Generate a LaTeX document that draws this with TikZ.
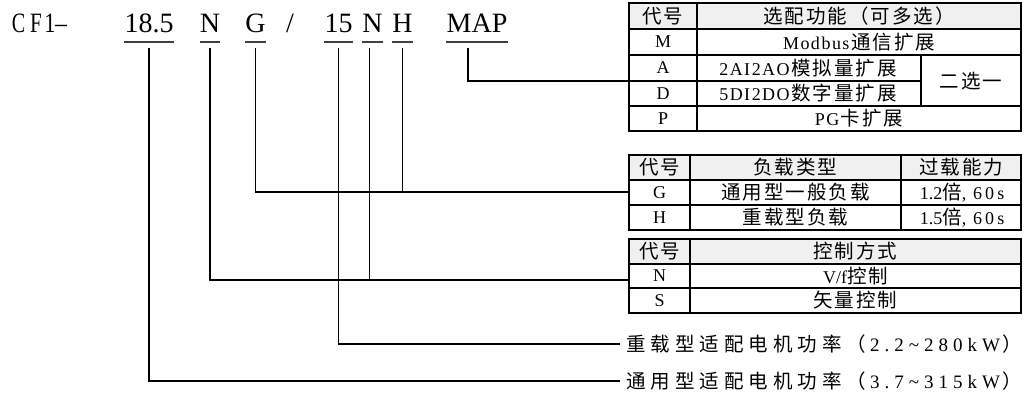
\documentclass[tikz,border=0pt]{standalone}
\usepackage{graphicx}
\usepackage{fontspec}
\setmainfont{Liberation Serif}
\newfontfamily\zh{Noto Sans CJK SC}
\makeatletter
\def\spc@gap{0pt}
\def\spc#1#2{{\def\spc@gap{#1}\spc@loop#2\@nil\unskip}}
\def\spc@loop#1{\ifx#1\@nil\else #1\hskip\spc@gap\relax\expandafter\spc@loop\fi}
\makeatother
% table texts
\newcommand\tz[1]{{\zh\fontsize{19.5}{19.5}\selectfont\spc{2pt}{#1}}}
\newcommand\tl[1]{\spc{1.5pt}{#1}}
% note texts
\newcommand\bz[1]{{\zh\fontsize{19.5}{19.5}\selectfont\spc{5pt}{#1}}}
\newcommand\bl[1]{{\fontsize{19}{19}\selectfont\spc{5pt}{#1}}}
\begin{document}
\begin{tikzpicture}[x=1pt,y=-1pt,
  title/.style={font=\fontsize{28}{28}\selectfont, inner sep=0pt, anchor=base},
  cell/.style={font=\fontsize{18}{18}\selectfont, inner sep=0pt},
  note/.style={font=\fontsize{18}{18}\selectfont, inner sep=0pt, anchor=west},
  grid/.style={line width=1.2pt},
  hdr/.style={fill=black!6},
  wire/.style={line width=1.4pt},
  uline/.style={line width=1.3pt, black!75}]
\useasboundingbox (0,0) rectangle (1025,395);

% ---- model code ----
\node[title] (tC) at (18.5,33) {\scalebox{0.72}[1]{C}};
\node[title] (tF) at (36,33) {\scalebox{0.75}[1]{F}};
\node[title] (t1) at (50,33) {\scalebox{0.8}[1]{1}};
\node[title] (tdash) at (61,33) {\scalebox{0.85}[1]{–}};
\node[title] (tA) at (149,33) {18.5};
\node[title] (tB) at (210,33) {N};
\node[title] (tG) at (255.5,33) {G};
\node[title] (tsl) at (290,33) {/};
\node[title] (tD) at (338.5,33) {15};
\node[title] (tE) at (372.5,33) {N};
\node[title] (tH) at (402.5,33) {H};
\node[title] (tM) at (477,33) {MAP};
\foreach \n in {tA,tB,tG,tD,tE,tH,tM}
  \draw[uline] ([yshift=-9pt]\n.base west) -- ([yshift=-9pt]\n.base east);

% ---- table 1 ----
\fill[hdr] (629,3) rectangle (1021,29);
\draw[grid] (629,3) rectangle (1021,131);
\draw[grid] (629,29) -- (1021,29) (629,55) -- (1021,55) (629,81) -- (921,81)
  (629,106) -- (1021,106) (697,3) -- (697,131) (921,55) -- (921,106);
\node[cell] (a0) at (663,16) {\tz{代号}};
\node[cell] (a1) at (859,16) {\tz{选配功能（可多选）}};
\node[cell] (aM) at (663,42) {M};
\node[cell] (aMt) at (859,42) {\tl{Modbus}\hskip1.5pt\tz{通信扩展}};
\node[cell] (aA) at (663,68) {A};
\node[cell] (aAt) at (808,68) {\tl{2AI2AO}\hskip1.5pt\tz{模拟量扩展}};
\node[cell] (aD) at (663,93.5) {D};
\node[cell] (aDt) at (808,93.5) {\tl{5DI2DO}\hskip1.5pt\tz{数字量扩展}};
\node[cell] (aX) at (971,81) {\tz{二选一}};
\node[cell] (aP) at (663,118.5) {P};
\node[cell] (aPt) at (859,118.5) {\tl{PG}\hskip1.5pt\tz{卡扩展}};

% ---- table 2 ----
\fill[hdr] (629,155) rectangle (1021,180);
\draw[grid] (629,155) rectangle (1021,230);
\draw[grid] (629,180) -- (1021,180) (629,205) -- (1021,205)
  (690,155) -- (690,230) (901,155) -- (901,230);
\node[cell] (b0) at (659.5,167.5) {\tz{代号}};
\node[cell] (b1) at (795.5,167.5) {\tz{负载类型}};
\node[cell] (b2) at (961,167.5) {\tz{过载能力}};
\node[cell] (bG) at (659.5,192.5) {G};
\node[cell] (bGt) at (795.5,192.5) {\tz{通用型一般负载}};
\node[cell] (bGo) at (962,192.5) {1.2{\zh\fontsize{19.5}{19.5}\selectfont 倍},\hskip7pt\spc{3pt}{60s}};
\node[cell] (bH) at (659.5,217.5) {H};
\node[cell] (bHt) at (795.5,217.5) {\tz{重载型负载}};
\node[cell] (bHo) at (962,217.5) {1.5{\zh\fontsize{19.5}{19.5}\selectfont 倍},\hskip7pt\spc{3pt}{60s}};

% ---- table 3 ----
\fill[hdr] (629,239) rectangle (1021,264);
\draw[grid] (629,239) rectangle (1021,313);
\draw[grid] (629,264) -- (1021,264) (629,288) -- (1021,288) (690,239) -- (690,313);
\node[cell] (c0) at (659.5,251.5) {\tz{代号}};
\node[cell] (c1) at (855.5,251.5) {\tz{控制方式}};
\node[cell] (cN) at (659.5,276) {N};
\node[cell] (cNt) at (855.5,276) {V/f\tz{控制}};
\node[cell] (cS) at (659.5,300.5) {S};
\node[cell] (cSt) at (855.5,300.5) {\tz{矢量控制}};

% ---- power notes ----
\node[note] (n1) at (626,344) {\bz{重载型适配电机功率（}\hskip4pt\bl{2.2{\textasciitilde}280kW}\hskip2pt{\zh\fontsize{19.5}{19.5}\selectfont ）}};
\node[note] (n2) at (626,381) {\bz{通用型适配电机功率（}\hskip4pt\bl{3.7{\textasciitilde}315kW}\hskip2pt{\zh\fontsize{19.5}{19.5}\selectfont ）}};

% ---- connectors ----
\coordinate (inT1) at (629,81);
\coordinate (inT2) at (629,192);
\coordinate (inT3) at (629,280);
\coordinate (mapTop) at (468,48);
\draw[wire] (mapTop) |- (inT1);
\draw[wire] ([yshift=-15pt]tG.base) |- (inT2);
\draw[wire] ([yshift=-15pt]tH.base) -- (tH.base |- inT2);
\draw[wire] ([yshift=-15pt]tB.base) |- (inT3);
\draw[wire] ([yshift=-15pt,xshift=-3pt]tE.base) -- ([xshift=-3pt]tE.base |- inT3);
\draw[wire] ([yshift=-15pt]tD.base) |- ([xshift=-6pt]n1.west);
\draw[wire] ([yshift=-15pt]tA.base) |- ([xshift=-6pt]n2.west);
\end{tikzpicture}
\end{document}
